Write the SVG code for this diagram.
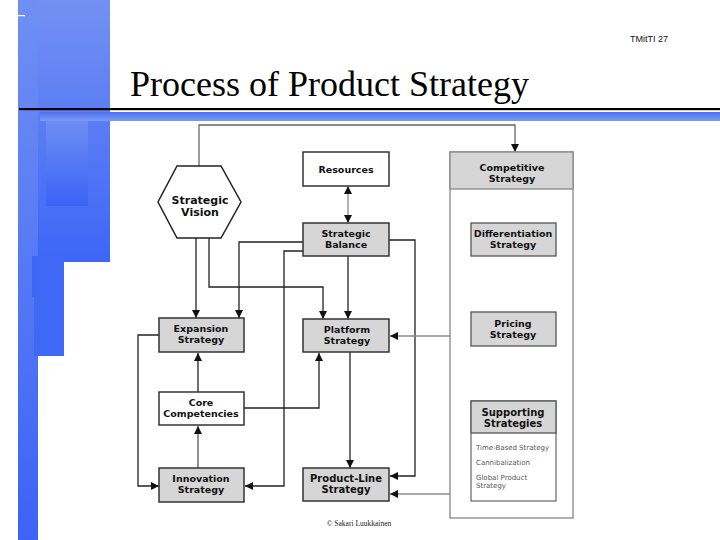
<svg xmlns="http://www.w3.org/2000/svg" width="720" height="540" viewBox="0 0 720 540">
<style>
.box{stroke:#333;stroke-width:1.5}
.g{fill:#d6d6d6}
.w{fill:#fff}
.t{font-family:"DejaVu Sans",Verdana,sans-serif;font-weight:bold;font-size:9.5px;fill:#111;text-anchor:middle}
.c{fill:none;stroke:#222;stroke-width:1.3}
.cg{fill:none;stroke:#8a8a8a;stroke-width:1.3}
.s{font-family:"DejaVu Sans",Verdana,sans-serif;font-size:7px;fill:#555}
</style>
<defs>
<linearGradient id="bg1" x1="0" y1="0" x2="0" y2="1">
<stop offset="0" stop-color="#7490f2"/>
<stop offset="1" stop-color="#3d66f7"/>
</linearGradient>
<linearGradient id="bg2" x1="0" y1="0" x2="0" y2="1">
<stop offset="0" stop-color="#6f8ff3"/>
<stop offset="1" stop-color="#3b63f6"/>
</linearGradient>
<linearGradient id="bar" x1="0" y1="0" x2="0" y2="1">
<stop offset="0" stop-color="#4b72f2"/>
<stop offset="1" stop-color="#7d9bf3"/>
</linearGradient>
<marker id="a" markerUnits="userSpaceOnUse" markerWidth="9" markerHeight="8" refX="8" refY="4" orient="auto">
<path d="M0,0 L8,4 L0,8 z" fill="#111"/>
</marker>
<marker id="as" markerUnits="userSpaceOnUse" markerWidth="9" markerHeight="8" refX="0" refY="4" orient="auto">
<path d="M8,0 L0,4 L8,8 z" fill="#111"/>
</marker>
</defs>
<rect width="720" height="540" fill="#fff"/>
<g id="decoration">
<rect x="18" y="0" width="92" height="262" fill="url(#bg1)"/>
<rect x="18" y="0" width="20" height="540" fill="url(#bg2)"/>
<rect x="46" y="118" width="42" height="88" fill="url(#bg2)"/>
<rect x="32" y="256" width="24" height="41" fill="#3d66f7"/>
<rect x="34" y="256" width="30" height="100" fill="#3f68f6"/>
<rect x="18" y="15" width="7" height="1.2" fill="#fff"/>
<rect x="40" y="112" width="680" height="9" fill="url(#bar)"/>
<rect x="19" y="108" width="701" height="2.2" fill="#000"/>
</g>
<text x="649" y="42" font-family="Liberation Sans,Arial,sans-serif" font-size="9" text-anchor="middle" fill="#111">TMitTI 27</text>
<text x="130" y="96" font-family="Liberation Serif,Times New Roman,serif" font-size="36" fill="#000">Process of Product Strategy</text>
<g id="connectors">
<path class="cg" d="M199,166 V125 H515 V152" marker-end="url(#a)" style="stroke:#666"/>
<path class="cg" d="M348,186 V223" marker-start="url(#as)" marker-end="url(#a)"/>
<path class="c" d="M196,238 V318" marker-end="url(#a)"/>
<path class="c" d="M209,238 V287 H323 V319" marker-end="url(#a)"/>
<path class="c" d="M303,242 H239 V318" marker-end="url(#a)"/>
<path class="c" d="M303,251 H284 V486 H245" marker-end="url(#a)"/>
<path class="c" d="M348,256 V319" marker-end="url(#a)"/>
<path class="c" d="M389,240 H415 V476 H390" marker-end="url(#a)"/>
<path class="cg" d="M450,336 H390" marker-end="url(#a)"/>
<path class="cg" d="M450,494 H390" marker-end="url(#a)"/>
<path class="c" d="M350,352 V468" marker-end="url(#a)"/>
<path class="c" d="M244,408 H319 V353" marker-end="url(#a)"/>
<path class="c" d="M198,468 V426" marker-end="url(#a)" style="stroke:#555"/>
<path class="c" d="M198,392 V353" marker-end="url(#a)"/>
<path class="c" d="M159,335 H138 V486 H159" marker-end="url(#a)"/>
</g>
<g id="strategic-vision">
<polygon points="177,166 221,166 241,202 221,238 177,238 158,202" fill="#fff" stroke="#222" stroke-width="1.5"/>
<text class="t" x="200" y="204" style="font-size:11px">Strategic</text>
<text class="t" x="200" y="216" style="font-size:11px">Vision</text>
</g>
<g id="resources">
<rect class="box w" x="303" y="152" width="86" height="34"/>
<text class="t" x="346" y="173">Resources</text>
</g>
<g id="strategic-balance">
<rect class="box g" x="303" y="223" width="86" height="33"/>
<text class="t" x="346" y="237">Strategic</text>
<text class="t" x="346" y="248">Balance</text>
</g>
<g id="competitive-strategy">
<rect x="450" y="152" width="123" height="366" fill="#fff" stroke="#888" stroke-width="1.3"/>
<rect x="450" y="152" width="123" height="37" fill="#d6d6d6" stroke="#888" stroke-width="1.3"/>
<text class="t" x="512" y="171">Competitive</text>
<text class="t" x="512" y="182">Strategy</text>
</g>
<g id="differentiation-strategy">
<rect class="g" x="471" y="223" width="85" height="33" stroke="#555" stroke-width="1.3"/>
<text class="t" x="513" y="237">Differentiation</text>
<text class="t" x="513" y="248">Strategy</text>
</g>
<g id="pricing-strategy">
<rect class="g" x="471" y="312" width="85" height="34" stroke="#555" stroke-width="1.3"/>
<text class="t" x="513" y="327">Pricing</text>
<text class="t" x="513" y="338">Strategy</text>
</g>
<g id="supporting-strategies">
<rect x="471" y="401" width="85" height="100" fill="#fff" stroke="#666" stroke-width="1.2"/>
<rect class="g" x="471" y="401" width="85" height="32" stroke="#555" stroke-width="1.3"/>
<text class="t" x="513" y="415.5" style="font-size:10px">Supporting</text>
<text class="t" x="513" y="427" style="font-size:10px">Strategies</text>
<text class="s" x="476" y="450">Time-Based Strategy</text>
<text class="s" x="476" y="465">Cannibalization</text>
<text class="s" x="476" y="480">Global Product</text>
<text class="s" x="476" y="488">Strategy</text>
</g>
<g id="expansion-strategy">
<rect class="box g" x="159" y="318" width="85" height="34"/>
<text class="t" x="201" y="332">Expansion</text>
<text class="t" x="201" y="343">Strategy</text>
</g>
<g id="platform-strategy">
<rect class="box g" x="303" y="319" width="86" height="33"/>
<text class="t" x="347" y="333">Platform</text>
<text class="t" x="347" y="344">Strategy</text>
</g>
<g id="core-competencies">
<rect class="box w" x="159" y="392" width="85" height="33"/>
<text class="t" x="201" y="406">Core</text>
<text class="t" x="201" y="417">Competencies</text>
</g>
<g id="innovation-strategy">
<rect class="box g" x="159" y="468" width="85" height="34"/>
<text class="t" x="201" y="482">Innovation</text>
<text class="t" x="201" y="493">Strategy</text>
</g>
<g id="product-line-strategy">
<rect class="box g" x="303" y="468" width="86" height="33"/>
<text class="t" x="346" y="482" style="font-size:10px">Product-Line</text>
<text class="t" x="346" y="493" style="font-size:10px">Strategy</text>
</g>
<text x="359" y="526" font-family="Liberation Serif,Times New Roman,serif" font-size="7.5" text-anchor="middle" fill="#222">© Sakari Luukkainen</text>
</svg>
